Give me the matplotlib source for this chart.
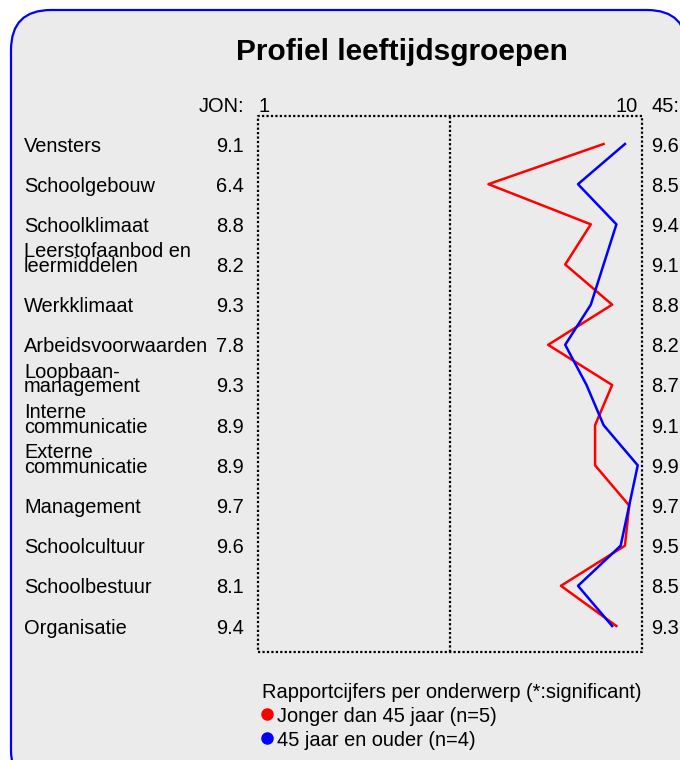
import numpy as np
import matplotlib.pyplot as plt
from matplotlib.patches import FancyBboxPatch

plt.rcParams['font.family'] = ['Liberation Sans', 'DejaVu Sans']

onderwerpen = ["Vensters", "Schoolgebouw", "Schoolklimaat",
               "Leerstofaanbod en\nleermiddelen", "Werkklimaat",
               "Arbeidsvoorwaarden", "Loopbaan-\nmanagement",
               "Interne\ncommunicatie", "Externe\ncommunicatie",
               "Management", "Schoolcultuur", "Schoolbestuur", "Organisatie"]
jong = [9.1, 6.4, 8.8, 8.2, 9.3, 7.8, 9.3, 8.9, 8.9, 9.7, 9.6, 8.1, 9.4]
oud = [9.6, 8.5, 9.4, 9.1, 8.8, 8.2, 8.7, 9.1, 9.9, 9.7, 9.5, 8.5, 9.3]

W, H = 680, 760
fig = plt.figure(figsize=(W / 100, H / 100), dpi=100)
fig.patch.set_facecolor('white')

# rounded frame (in inches)
frame = FancyBboxPatch((0.11, -0.3), 6.76, 7.8, boxstyle="round,pad=0,rounding_size=0.4",
                       transform=fig.dpi_scale_trans, facecolor='#ebebeb',
                       edgecolor='#0000ff', linewidth=1.6, zorder=-5)
fig.patches.append(frame)


def fx(px):
    return px / W


def fy(py):
    return 1 - py / H


fig.text(fx(402), fy(52), "Profiel leeftijdsgroepen", ha='center', va='center',
         fontsize=21.5, fontweight='bold')

x0, x1, y0, y1 = 258, 642, 116, 652
ax = fig.add_axes([fx(x0), fy(y1), (x1 - x0) / W, (y1 - y0) / H])
ax.set_facecolor('none')
row0, step = 144, (626 - 144) / 12
ax.set_xlim(1, 10)
ax.set_ylim(12 + (y1 - 626) / step, -(row0 - y0) / step)
for s in ax.spines.values():
    s.set_visible(False)
ax.set_xticks([])
ax.set_yticks([])
stip = dict(color='black', linestyle=(0, (1, 1)), linewidth=1.6, clip_on=False)
ax.plot([0, 1, 1, 0, 0], [0, 0, 1, 1, 0], transform=ax.transAxes, **stip)
ax.axvline(5.5, **stip)

rows = np.arange(len(onderwerpen))
ax.plot(jong, rows, color='#ff0000', linewidth=1.8)
ax.plot(oud, rows, color='#0000ff', linewidth=1.8)

tr = ax.get_yaxis_transform()
fs = 14.4
va = 'center_baseline'
for i, naam in enumerate(onderwerpen):
    delen = naam.split("\n")
    for j, regel in enumerate(reversed(delen)):
        ax.text((24 - x0) / (x1 - x0), i - j * 14.6 / step, regel, transform=tr,
                ha='left', va=va, fontsize=fs)
    ax.text((244 - x0) / (x1 - x0), i, f"{jong[i]:.1f}", transform=tr, ha='right',
            va=va, fontsize=fs)
    ax.text((651 - x0) / (x1 - x0), i, f"{oud[i]:.1f}", transform=tr, ha='left',
            va=va, fontsize=fs)

fig.text(fx(244), fy(104), "JON:", ha='right', va=va, fontsize=fs)
fig.text(fx(258), fy(104), "1", ha='left', va=va, fontsize=fs)
fig.text(fx(638), fy(104), "10", ha='right', va=va, fontsize=fs)
fig.text(fx(651), fy(104), "45:", ha='left', va=va, fontsize=fs)

fig.text(fx(262), fy(690), "Rapportcijfers per onderwerp (*:significant)", ha='left',
         va=va, fontsize=fs)
legenda = [("#ff0000", "Jonger dan 45 jaar (n=5)"), ("#0000ff", "45 jaar en ouder (n=4)")]
for k, (kleur, tekst) in enumerate(legenda):
    yy = fy(714 + 24 * k)
    fig.lines.append(plt.Line2D([fx(267)], [yy], marker='o', markersize=8, color=kleur,
                                transform=fig.transFigure))
    fig.text(fx(277), yy, tekst, ha='left', va=va, fontsize=fs)

fig.savefig("out.png", dpi=100)
